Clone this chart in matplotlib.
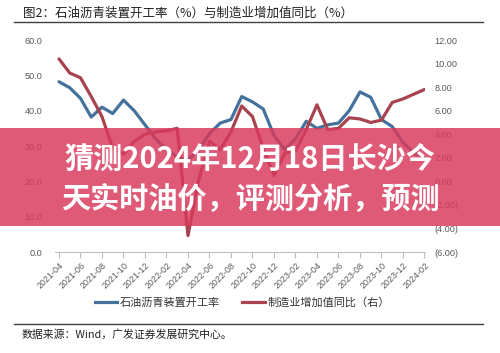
import matplotlib
matplotlib.use("Agg")
import matplotlib.pyplot as plt
from matplotlib.lines import Line2D
from matplotlib.patches import Rectangle
import numpy as np

plt.rcParams['font.family'] = ['Noto Sans CJK SC', 'DejaVu Sans']

# 月度数据 2021-04 ~ 2024-02
tick_labels = ['2021-04', '2021-06', '2021-08', '2021-10', '2021-12', '2022-02',
               '2022-04', '2022-06', '2022-08', '2022-10', '2022-12', '2023-02',
               '2023-04', '2023-06', '2023-08', '2023-10', '2023-12', '2024-02']

# 石油沥青装置开工率 (%)，左轴
asphalt_rate = [48.2, 46.5, 43.5, 38.2, 41.0, 39.2, 43.0, 40.0, 36.0, 32.0,
                29.0, 27.0, 26.0, 29.0, 33.5, 36.5, 37.5, 44.0, 42.5, 40.5,
                33.0, 29.0, 32.0, 37.0, 35.0, 36.0, 36.5, 40.0, 45.3, 43.8,
                37.5, 35.5, 31.0, 28.0, 27.0]

# 制造业增加值同比 (%)，右轴
mfg_yoy = [10.4, 9.2, 8.8, 7.2, 5.5, 2.8, 2.3, 3.4, 4.0, 4.2,
           4.3, 4.5, -4.6, 0.1, 3.4, 2.7, 4.2, 6.4, 5.5, 2.8,
           0.5, 2.4, 2.6, 4.4, 6.5, 4.4, 4.5, 5.4, 5.3, 5.0,
           5.2, 6.7, 7.0, 7.4, 7.8]

blue = '#44729a'
red = '#a8434f'
grey = '#595959'
num_font = 'Liberation Sans'

fig = plt.figure(figsize=(5, 3.53), dpi=100)
ax = fig.add_axes([0.11, 0.286, 0.74, 0.6006])
ax2 = ax.twinx()

x = np.arange(len(asphalt_rate))
ax.plot(x, asphalt_rate, color=blue, linewidth=2.3, solid_joinstyle='round',
        solid_capstyle='round')
ax2.plot(x, mfg_yoy, color=red, linewidth=2.3, solid_joinstyle='round',
         solid_capstyle='round')

ax.set_xlim(-0.37, 34.05)
ax.set_ylim(0, 60)
ax2.set_ylim(-6, 12)

ax.set_yticks(np.arange(0, 61, 10))
ax.set_yticklabels([f'{v:.1f}' for v in np.arange(0, 61, 10)])
r_ticks = np.arange(-6, 13, 2)
ax2.set_yticks(r_ticks)
ax2.set_yticklabels([f'({-v:.2f})' if v < 0 else f'{v:.2f}' for v in r_ticks])

ax.set_xticks(np.arange(0, len(asphalt_rate), 2))
ax.set_xticklabels(tick_labels, rotation=45, ha='right', rotation_mode='anchor')

for a in (ax, ax2):
    for s in a.spines.values():
        s.set_visible(False)
ax.spines['bottom'].set_visible(True)
ax.spines['bottom'].set_color('#bfbfbf')

ax.tick_params(axis='y', length=0, pad=9, labelsize=6.6, labelcolor=grey)
ax2.tick_params(axis='y', length=0, pad=7, labelsize=6.6, labelcolor=grey)
ax.tick_params(axis='x', length=4, color='#bfbfbf', direction='out', pad=2,
               labelsize=6.4, labelcolor=grey)
for lab in ax.get_yticklabels() + ax2.get_yticklabels() + ax.get_xticklabels():
    lab.set_fontfamily(num_font)

# 标题与分隔线
fig.text(0.046, 0.963, '图2：石油沥青装置开工率（%）与制造业增加值同比（%）',
         fontsize=9, color='#222222', va='center', ha='left')
fig.add_artist(Line2D([0.028, 0.966], [0.9377, 0.9377], color='#404040',
                      linewidth=1, transform=fig.transFigure))
fig.add_artist(Line2D([0.028, 0.966], [0.082, 0.082], color='#404040',
                      linewidth=1, transform=fig.transFigure))

# 图例
handles = [Line2D([], [], color=blue, linewidth=2.3),
           Line2D([], [], color=red, linewidth=2.3)]
fig.legend(handles, ['石油沥青装置开工率', '制造业增加值同比（右）'],
           loc='center', bbox_to_anchor=(0.485, 0.142), ncol=2, frameon=False,
           fontsize=8, handlelength=2.0, columnspacing=2.0, handletextpad=0.3,
           labelcolor='#333333')

fig.text(0.044, 0.051, '数据来源：Wind，广发证券发展研究中心。', fontsize=7.8,
         color='#222222', va='center', ha='left')

# 红色横幅
fig.add_artist(Rectangle((0, 0.36), 1, 0.277, transform=fig.transFigure,
                         facecolor='#d83a5c', alpha=0.84, edgecolor='none',
                         zorder=5))
fig.text(0.5, 0.549, '猜测2024年12月18日长沙今', fontsize=21, fontweight='bold',
         color='white', ha='center', va='center', zorder=6)
fig.text(0.5, 0.436, '天实时油价，评测分析，预测', fontsize=21, fontweight='bold',
         color='white', ha='center', va='center', zorder=6)

fig.savefig('out.png', dpi=100)
